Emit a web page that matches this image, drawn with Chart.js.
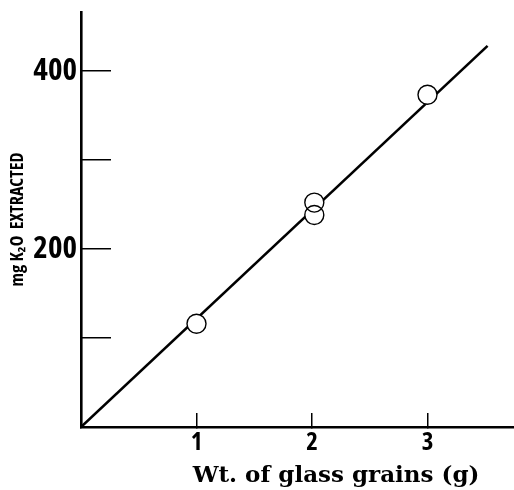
<!DOCTYPE html>
<html>
<head>
<meta charset="utf-8">
<script src="https://cdn.jsdelivr.net/npm/chart.js@4/dist/chart.umd.min.js"></script>
<style>
  html, body { margin: 0; padding: 0; background: #fff; overflow: hidden; }
  #view { width: 514px; height: 490px; overflow: hidden; position: relative; }
  #wrap { width: 591px; height: 490px; position: absolute; left: 0; top: 0; }
</style>
</head>
<body>
<div id="view"><div id="wrap"><canvas id="c"></canvas></div></div>
<script>
// Data
const glassWeight = [1.0, 2.02, 2.02, 3.0];          // g
const k2oExtracted = [116, 252, 238, 373];           // mg K2O
const fitLineX = [0, 3.52];
const fitLineY = [0, 428];
const yTickLabels = [200, 400];
const xTickLabels = [1, 2, 3];

const points = glassWeight.map((x, i) => ({ x: x, y: k2oExtracted[i] }));
const fitLine = fitLineX.map((x, i) => ({ x: x, y: fitLineY[i] }));

const condensed = "'Open Sans', 'Roboto', sans-serif";

new Chart(document.getElementById('c'), {
  type: 'scatter',
  data: {
    datasets: [
      {
        type: 'line',
        data: fitLine,
        borderColor: '#000',
        borderWidth: 2.6,
        pointRadius: 0,
        fill: false,
        order: 3
      },
      {
        data: points,
        pointRadius: 9.5,
        pointBackgroundColor: '#fff',
        pointBorderColor: '#fff',
        pointBorderWidth: 0,
        order: 2
      },
      {
        data: points,
        pointRadius: 9.5,
        pointBackgroundColor: 'rgba(0,0,0,0)',
        pointBorderColor: '#000',
        pointBorderWidth: 1.4,
        order: 1
      }
    ]
  },
  options: {
    responsive: true,
    maintainAspectRatio: false,
    animation: false,
    events: [],
    layout: { autoPadding: false, padding: { top: 12, left: 0, right: 0, bottom: 0 } },
    plugins: { legend: { display: false }, tooltip: { enabled: false } },
    scales: {
      x: {
        type: 'linear',
        min: 0,
        max: (591 - 81) / 115.5,
        border: { display: true, color: '#000', width: 2.6 },
        grid: { drawOnChartArea: false, drawTicks: true, tickLength: -14, color: '#000', lineWidth: 1.5 },
        ticks: {
          stepSize: 1,
          includeBounds: false,
          padding: 15,
          color: '#000',
          font: { family: condensed, weight: 'bold condensed', size: 25 },
          callback: (v) => xTickLabels.includes(v) ? String(v) : ''
        },
        title: {
          display: true,
          text: 'Wt. of glass grains (g)',
          color: '#000',
          font: { family: "'DejaVu Serif', serif", weight: 'bold', size: 23 },
          padding: { top: 0, bottom: 0 }
        },
        afterFit: (s) => { s.height = 63; s.paddingLeft = 0; s.paddingRight = 0; }
      },
      y: {
        type: 'linear',
        min: 0,
        max: 466,
        border: { display: true, color: '#000', width: 2.6 },
        grid: { drawOnChartArea: false, drawTicks: true, tickLength: -30, color: '#000', lineWidth: 1.5 },
        ticks: {
          stepSize: 100,
          includeBounds: false,
          padding: 34,
          color: '#000',
          font: { family: condensed, weight: 'bold condensed', size: 31 },
          callback: (v) => yTickLabels.includes(v) ? String(v) : ''
        },
        title: {
          display: true,
          text: 'mg K\u2082O  EXTRACTED',
          color: '#000',
          font: { family: condensed, weight: 'bold condensed', size: 18 },
          padding: { top: 7, bottom: 0 }
        },
        afterFit: (s) => { s.width = 81; s.paddingTop = 0; s.paddingBottom = 0; }
      }
    }
  }
});
</script>
</body>
</html>
